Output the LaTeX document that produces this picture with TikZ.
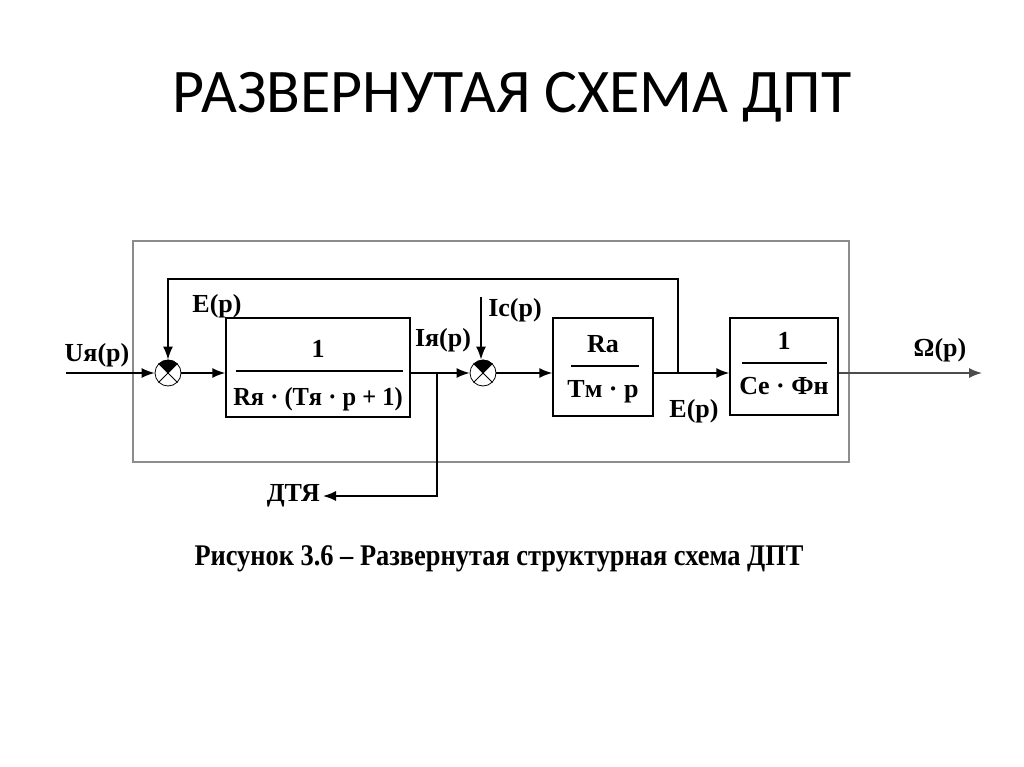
\documentclass[tikz,border=0pt]{standalone}
\usepackage{fontspec}
\setmainfont{Liberation Serif}
\newfontfamily\titlefont{Carlito}
\usetikzlibrary{arrows.meta}
\tikzset{
  lbl/.style={font=\fontsize{26}{28}\selectfont\bfseries, inner sep=1pt},
  blk/.style={draw, line width=1.5pt, inner sep=0pt},
  sumj/.style={circle, draw, line width=0.8pt, minimum size=26pt, inner sep=0pt},
  arr/.style={line width=1.5pt, -{Latex[length=13pt,width=10pt]}},
  frac/.style={line width=1.5pt}
}
\newcommand{\sumfill}[1]{%
  \fill (#1.center) -- (#1.45) arc[start angle=45, end angle=135, radius=13pt] -- cycle;
  \draw[line width=0.8pt] (#1.45) -- (#1.225) (#1.135) -- (#1.315);}
\begin{document}
\begin{tikzpicture}[x=1pt,y=-1pt]
\useasboundingbox[fill=white] (0,0) rectangle (1024,767);
% title
\node[font=\titlefont\fontsize{62}{66}\selectfont, anchor=base, inner sep=0pt] (title) at (512,113) {РАЗВЕРНУТАЯ СХЕМА ДПТ};
% outer frame
\draw[line width=1.3pt, color=black!45] (133,241) rectangle (849,462);
% blocks
\node[blk, minimum width=184pt, minimum height=99pt] (b1) at (318,367.5) {};
\node[blk, minimum width=100pt, minimum height=98pt] (b2) at (603,367) {};
\node[blk, minimum width=108pt, minimum height=97pt] (b3) at (784,366.5) {};
% summing junctions
\node[sumj] (s1) at (168,373) {};
\node[sumj] (s2) at (483,373) {};
\sumfill{s1}
\sumfill{s2}
% fraction contents
\node[lbl] (n1) at (318,349) {1};
\node[lbl, xscale=0.94] (d1) at (318,399) {Rя · (Tя · p + 1)};
\draw[frac] (236,371) -- (403,371);
\node[lbl] (n2) at (603,344) {Ra};
\node[lbl] (d2) at (603,392) {Tм · p};
\draw[frac] (571,366) -- (639,366);
\node[lbl] (n3) at (784,341) {1};
\node[lbl] (d3) at (784,386) {Ce · Фн};
\draw[frac] (742,363) -- (827,363);
% labels
\node[lbl] (lu) at (97,355) {Uя(p)};
\node[lbl] (le1) at (217,306) {E(p)};
\node[lbl] (li) at (443,340) {Iя(p)};
\node[lbl] (lc) at (515,310) {Ic(p)};
\node[lbl] (le2) at (694,411) {E(p)};
\node[lbl] (lw) at (940,350) {Ω(p)};
\node[lbl, anchor=east, inner sep=3pt] (dt) at (323,496) {ДТЯ};
% coordinates
\coordinate (in) at (66,373);
\coordinate (j1) at (437,373);
\coordinate (j2) at (678,373);
\coordinate (fb) at (678,279);
\coordinate (ic) at (481,297);
\coordinate (out) at (982,373);
% connectors
\draw[arr] (in) -- (s1);
\draw[arr] (s1) -- (b1.west |- s1);
\draw[arr] (b1.east |- s1) -- (s2);
\draw[arr] (s2) -- (b2.west |- s2);
\draw[arr] (b2.east |- s2) -- (b3.west |- s2);
\draw[arr] (j2) -- (fb) -| (s1);
\draw[arr] (ic) -- (ic |- s2.north);
\draw[arr] (j1) |- (dt.east);
\draw[arr, color=black!70] (b3.east |- s2) -- (out);
% caption
\node[font=\fontsize{30}{32}\selectfont\bfseries, xscale=0.88, anchor=base, inner sep=0pt] (cap) at (499,565) {Рисунок 3.6 – Развернутая структурная схема ДПТ};
\end{tikzpicture}
\end{document}
